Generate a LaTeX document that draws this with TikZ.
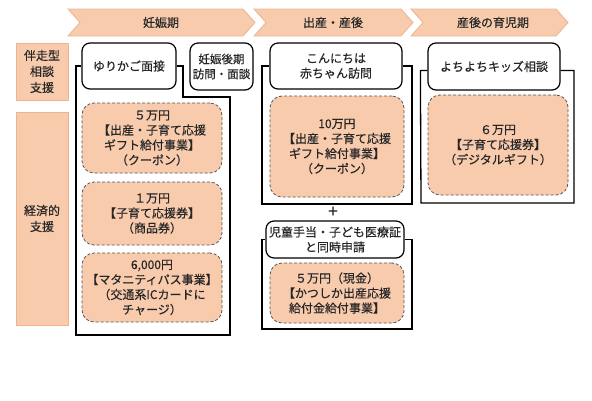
\documentclass[tikz,border=0pt]{standalone}
\usepackage{fontspec}
\setmainfont{Noto Sans CJK JP}[FakeBold=0.35]
\definecolor{peach}{HTML}{F8CBAD}
\definecolor{peachdark}{HTML}{EDB58E}
\definecolor{txt}{HTML}{262626}
\definecolor{dash}{HTML}{555555}
\tikzset{
  chev/.style={fill=peach, draw=peachdark, line width=0.8pt},
  chevtext/.style={text=txt, font=\fontsize{12}{15}\selectfont},
  lab/.style={rectangle, fill=peach, draw=peachdark, line width=0.8pt, align=center, inner sep=0pt, text=txt, font=\fontsize{12}{16}\selectfont},
  wbox/.style={rectangle, rounded corners=8pt, draw=black, fill=white, line width=1.2pt, align=center, inner sep=0pt, text=txt, font=\fontsize{12}{15}\selectfont},
  pbox/.style={rectangle, rounded corners=12pt, fill=peach, draw=dash, densely dashed, line width=0.8pt, align=center, inner sep=0pt, text=txt, font=\fontsize{12}{15}\selectfont},
  frame/.style={draw=black, line width=1.3pt}
}
\begin{document}
\begin{tikzpicture}[x=1pt, y=-1pt]
\useasboundingbox (0,0) rectangle (592,400);
% chevrons
\draw[chev] (68,9) -- (243,9) -- (255,22.5) -- (243,36) -- (68,36) -- (80,22.5) -- cycle;
\node[chevtext] (c1) at (161,22.5) {妊娠期};
\draw[chev] (254,9) -- (401,9) -- (413,22.5) -- (401,36) -- (254,36) -- (266,22.5) -- cycle;
\node[chevtext] (c2) at (333,22.5) {出産・産後};
\draw[chev] (411,9) -- (556,9) -- (568,22.5) -- (556,36) -- (411,36) -- (423,22.5) -- cycle;
\node[chevtext] (c3) at (493,22.5) {産後の育児期};
% left labels
\node[lab, minimum width=52pt, minimum height=57pt] (l1) at (42,71.5) {伴走型\\相談\\支援};
\node[lab, minimum width=52pt, minimum height=213pt] (l2) at (42,218.5) {経済的\\支援};
% white boxes
\node[wbox, minimum width=94pt, minimum height=46pt] (yuri) at (129,66) {ゆりかご面接};
\node[wbox, minimum width=63pt, minimum height=47pt, font=\fontsize{11.5}{15}\selectfont] (ninp) at (221.5,66.5) {妊娠後期\\訪問・面談};
\node[wbox, minimum width=132pt, minimum height=46pt] (konn) at (336,66) {こんにちは\\赤ちゃん訪問};
\node[wbox, minimum width=132pt, minimum height=47pt] (yochi) at (494,66.5) {よちよちキッズ相談};
\node[wbox, minimum width=138pt, minimum height=37pt] (jido) at (335,239.5) {児童手当・子ども医療証\\と同時申請};
% peach boxes
\node[pbox, minimum width=140pt, minimum height=70pt] (p1a) at (152,138) {５万円\\【出産・子育て応援\\ギフト給付事業】\\（クーポン）};
\node[pbox, minimum width=140pt, minimum height=63pt] (p1b) at (152,213.5) {１万円\\【子育て応援券】\\（商品券）};
\node[pbox, minimum width=140pt, minimum height=69pt] (p1c) at (152,287.5) {6,000円\\【マタニティパス事業】\\（交通系ICカードに\\チャージ）};
\node[pbox, minimum width=134pt, minimum height=101pt] (p2) at (337,146.5) {10万円\\【出産・子育て応援\\ギフト給付事業】\\（クーポン）};
\node[pbox, minimum width=140pt, minimum height=100pt] (p3) at (498,145) {６万円\\【子育て応援券】\\（デジタルギフト）};
\node[pbox, minimum width=134pt, minimum height=60pt] (p4) at (337,293) {５万円（現金）\\【かつしか出産応援\\給付金給付事業】};
\node[text=txt, font=\fontsize{17}{17}\selectfont, inner sep=0pt] (plus) at (333,212) {+};
% frames
\coordinate (f1bl) at (76,335);
\coordinate (f1br) at (230,335);
\coordinate (f1step) at (183,97);
\draw[frame] (yuri.west) -| (f1bl) -- (f1br) |- (f1step) |- (yuri.east);
\coordinate (f2bl) at (262,204);
\coordinate (f2br) at (412,204);
\draw[frame] (konn.west) -| (f2bl) -- (f2br) |- (konn.east);
\coordinate (f3bl) at (262,329);
\coordinate (f3br) at (412,329);
\draw[frame] (jido.west) -| (f3bl) -- (f3br) |- (jido.east);
\coordinate (f4bl) at (421,203);
\coordinate (f4br) at (574,203);
\draw[frame] ([yshift=-4pt]yochi.west) -- ++(-7,0) -- (f4bl) -- (f4br) -- ([yshift=-4pt]yochi.east -| f4br) -- ([yshift=-4pt]yochi.east);
\end{tikzpicture}
\end{document}
